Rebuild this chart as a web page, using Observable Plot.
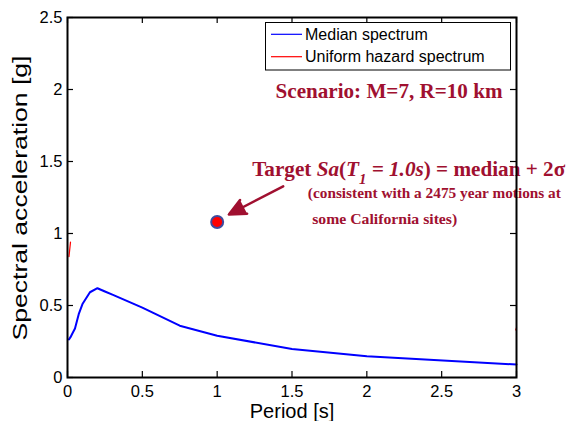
<!DOCTYPE html>
<html><head><meta charset="utf-8">
<script src="https://cdn.jsdelivr.net/npm/d3@7"></script>
<script src="https://cdn.jsdelivr.net/npm/@observablehq/plot@0.6"></script>
<style>
html,body{margin:0;padding:0;background:#fff;}
#chart{width:574px;height:421px;position:relative;}
</style></head><body><div id="chart"></div>
<script>
// ---- data ----
const periods   = [0.01,0.02,0.03,0.05,0.075,0.1,0.15,0.2,0.25,0.3,0.4,0.5,0.75,1,1.5,2,3];
const medianSa  = [0.265,0.28,0.30,0.34,0.44,0.51,0.592,0.62,0.597,0.575,0.53,0.485,0.36,0.29,0.198,0.148,0.09];
const uhsPeriods = [0.01,0.02,2.995,3];
const uhsSa      = [0.84,0.94,0.33,0.345];
const uhsSegment = ["a","a","b","b"];
const targetPeriod = [1.0];
const targetSa     = [1.08];
const seriesNames  = ["Median spectrum","Uniform hazard spectrum"];
const seriesColors = ["#0000ff","#ff0000"];
const xTicks = [0,0.5,1,1.5,2,2.5,3];
const xTickLabels = ["0","0.5","1","1.5","2","2.5","3"];
const yTicks = [0,0.5,1,1.5,2,2.5];
const yTickLabels = ["0","0.5","1","1.5","2","2.5"];
const xLabel = "Period [s]";
const yLabel = "Spectral acceleration [g]";
const scenarioText = "Scenario: M=7, R=10 km";
const targetText = "Target Sa(T1 = 1.0s) = median + 2σ";
const noteLines = ["(consistent with a 2475 year motions at","some California sites)"];

const medianData = periods.map((p,i)=>({T:p, Sa:medianSa[i]}));
const uhsData = uhsPeriods.map((p,i)=>({T:p, Sa:uhsSa[i], seg:uhsSegment[i]}));
const targetData = targetPeriod.map((p,i)=>({T:p, Sa:targetSa[i]}));

const W = 574, H = 421;
const mL = 67, mR = 58, mT = 17, mB = 44;
const pw = W - mL - mR, ph = H - mT - mB;
const red = "#a01030";
const serif = "'Liberation Serif','Times New Roman',serif";
const sans = "'Liberation Sans',Arial,sans-serif";

const plot = Plot.plot({
  width: W, height: H,
  marginLeft: mL, marginRight: mR, marginTop: mT, marginBottom: mB,
  style: {fontFamily: sans, color: "#000", background: "#fff", overflow: "visible"},
  x: {domain: [0,3], label: null},
  y: {domain: [0,2.5], label: null},
  marks: [
    Plot.axisX(xTicks, {tickSize: 0, tickPadding: 8, fontSize: 16.5, tickFormat: d => xTickLabels[xTicks.indexOf(d)], label: null}),
    Plot.axisY(yTicks, {tickSize: 0, tickPadding: 5, fontSize: 16.5, tickFormat: d => yTickLabels[yTicks.indexOf(d)], label: null}),
    Plot.tickX(xTicks, {x: d => d, insetTop: ph - 6, stroke: "#000", strokeWidth: 1.2}),
    Plot.tickX(xTicks, {x: d => d, insetBottom: ph - 6, stroke: "#000", strokeWidth: 1.2}),
    Plot.tickY(yTicks, {y: d => d, insetRight: pw - 6, stroke: "#000", strokeWidth: 1.2}),
    Plot.tickY(yTicks, {y: d => d, insetLeft: pw - 6, stroke: "#000", strokeWidth: 1.2}),
    Plot.line(medianData, {x: "T", y: "Sa", stroke: seriesColors[0], strokeWidth: 2}),
    Plot.line(uhsData, {x: "T", y: "Sa", z: "seg", stroke: seriesColors[1], strokeWidth: 1.2}),
    Plot.text([scenarioText], {x: 1.39, y: 1.944, text: d => d, textAnchor: "start", lineAnchor: "bottom",
      fontFamily: serif, fontWeight: "bold", fontSize: 21, fill: red, className: "scenario"}),
    Plot.text([targetText], {x: 1.234, y: 1.398, text: d => d, textAnchor: "start", lineAnchor: "bottom",
      fontFamily: serif, fontWeight: "bold", fontSize: 20, fill: red, className: "target"}),
    Plot.text([noteLines[0]], {x: 1.606, y: 1.245, text: d => d, textAnchor: "start", lineAnchor: "bottom",
      fontFamily: serif, fontWeight: "bold", fontSize: 15, fill: red, className: "note1"}),
    Plot.text([noteLines[1]], {x: 1.635, y: 1.068, text: d => d, textAnchor: "start", lineAnchor: "bottom",
      fontFamily: serif, fontWeight: "bold", fontSize: 15, fill: red, className: "note2"}),
    Plot.arrow([0], {x1: 1.441, y1: 1.328, x2: 1.078, y2: 1.132, stroke: red, strokeWidth: 2.5, headLength: 11, headAngle: 50, className: "ptr"}),
    Plot.dot(targetData, {x: "T", y: "Sa", r: 6, fill: "#ff0000", stroke: "#3f4a9e", strokeWidth: 2}),
    Plot.frame({stroke: "#000", strokeWidth: 2}),
    Plot.text([xLabel], {frameAnchor: "bottom", dy: 40, lineAnchor: "bottom", text: d => d, fontSize: 20, fontFamily: sans, fill: "#000"})
  ]
});
document.getElementById("chart").appendChild(plot);

const svg = d3.select(plot);
function fit(cls, len) {
  svg.select("g." + cls + " text").attr("textLength", len).attr("lengthAdjust", "spacingAndGlyphs");
}
fit("scenario", 227);
fit("note1", 253);
fit("note2", 145);
svg.selectAll("g.ptr path").attr("fill", red);

// rich formatting of target label
const tt = svg.select("g.target text");
tt.text(null);
const parts = [
  {t: "Target ", s: "normal"},
  {t: "Sa", s: "italic"},
  {t: "(", s: "normal"},
  {t: "T", s: "italic"},
  {t: "1", s: "italic", sub: true},
  {t: " = 1.0s", s: "italic"},
  {t: ") = median + 2σ", s: "normal"}
];
parts.forEach(p => {
  const ts = tt.append("tspan").text(p.t).attr("font-style", p.s);
  if (p.sub) ts.attr("font-size", "70%").attr("baseline-shift", "sub");
});
tt.attr("textLength", 313).attr("lengthAdjust", "spacingAndGlyphs");

// y label
svg.append("text")
  .attr("transform", `translate(27,198) rotate(-90)`)
  .attr("text-anchor", "middle")
  .attr("font-family", sans).attr("font-size", 20).attr("fill", "#000")
  .attr("textLength", 285).attr("lengthAdjust", "spacingAndGlyphs")
  .text(yLabel);

// legend
const lg = svg.append("g").attr("text-anchor", "start");
lg.append("rect").attr("x", 265.5).attr("y", 22.5).attr("width", 245).attr("height", 47.5)
  .attr("fill", "#fff").attr("stroke", "#000").attr("stroke-width", 1);
seriesNames.forEach((name, i) => {
  const y = 34.3 + i * 22.4;
  lg.append("line").attr("x1", 271).attr("x2", 302).attr("y1", y).attr("y2", y)
    .attr("stroke", seriesColors[i]).attr("stroke-width", 1.2);
  lg.append("text").attr("x", 305).attr("y", y + 5.5).attr("text-anchor", "start")
    .attr("font-family", sans).attr("font-size", 16).attr("fill", "#000").text(name);
});
</script>
</body></html>
